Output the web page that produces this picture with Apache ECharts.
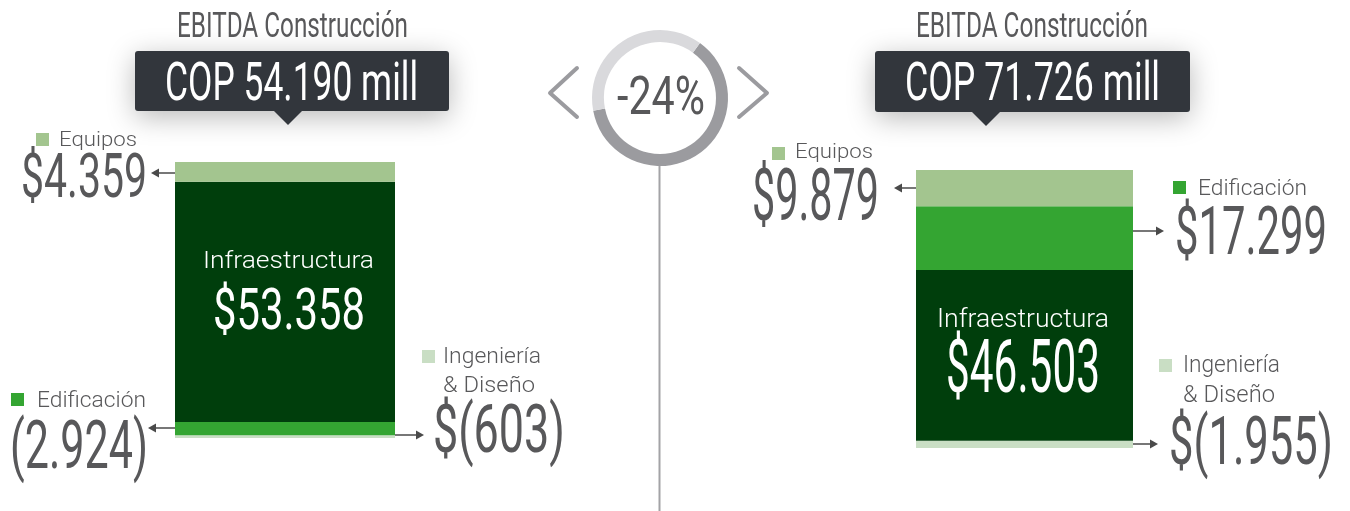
<!DOCTYPE html>
<html>
<head>
<meta charset="utf-8">
<script src="https://cdn.jsdelivr.net/npm/echarts@6/dist/echarts.min.js"></script>
<style>
  html, body { margin: 0; padding: 0; background: #fff; }
  #chart { width: 1350px; height: 511px; }
</style>
</head>
<body>
<div id="chart"></div>
<script>
// segmentos del EBITDA de construcción (COP millones)
const segments = ['Ingeniería & Diseño', 'Edificación', 'Infraestructura', 'Equipos'];
const segColors = ['#c9dec4', '#34a532', '#003e0c', '#a3c58f'];
const current = [-603, -2924, 53358, 4359];   // barra izquierda
const previous = [-1955, 17299, 46503, 9879]; // barra derecha
// orden de apilado (de abajo hacia arriba)
const currentOrder = [0, 1, 2, 3];
const previousOrder = [0, 2, 1, 3];
// signo $ en la etiqueta (la de Edificación izquierda no lo lleva)
const currentDollar = [true, false, true, true];
const previousDollar = [true, true, true, true];
// anillo decorativo alrededor de la variación
const ringShares = [62, 38];

const sum = arr => arr.reduce((a, b) => a + b, 0);
const absSum = arr => arr.reduce((a, b) => a + Math.abs(b), 0);
const fmt = n => Math.round(Math.abs(n)).toString().replace(/\B(?=(\d{3})+(?!\d))/g, '.');
const money = (n, dollar) => (dollar ? '$' : '') + (n < 0 ? '(' + fmt(n) + ')' : fmt(n));

const totalCur = sum(current);
const totalPrev = sum(previous);
const change = Math.round((totalCur - totalPrev) / totalPrev * 100);

const GRAY = '#58585a';
const NUM_FONT = 'Roboto';
const TXT_FONT = 'Roboto';

// texto ajustado a un ancho (fuente condensada simulada con scaleX)
const ctx = document.createElement('canvas').getContext('2d');
function label(str, left, right, capMid, size, color, weight, family) {
  weight = weight || 400;
  family = family || NUM_FONT;
  ctx.font = weight + ' ' + size + 'px ' + family;
  const w = ctx.measureText(str).width;
  return {
    type: 'text', x: left, y: capMid + 0.06 * size, scaleX: (right - left) / w, z: 20, silent: true,
    style: {
      text: str, fill: color, fontSize: size, fontFamily: family, fontWeight: weight,
      align: 'left', verticalAlign: 'middle', textAlign: 'left', textVerticalAlign: 'middle'
    }
  };
}
function square(x, y, color) {
  return { type: 'rect', shape: { x: x, y: y, width: 13, height: 13 }, style: { fill: color }, z: 20, silent: true };
}
function arrow(x1, x2, y) {
  const dir = x2 > x1 ? 1 : -1;
  return [
    { type: 'line', shape: { x1: x1, y1: y, x2: x2 - dir * 6, y2: y }, style: { stroke: '#4a4a4a', lineWidth: 1.5 }, z: 20, silent: true },
    { type: 'polygon', shape: { points: [[x2, y], [x2 - dir * 8, y - 4.5], [x2 - dir * 8, y + 4.5]] }, style: { fill: '#4a4a4a' }, z: 20, silent: true }
  ];
}
function headerBox(x, y, w, h, tipX) {
  return [
    { type: 'rect', shape: { x: x, y: y, width: w, height: h, r: 3 },
      style: { fill: '#32363c', shadowBlur: 28, shadowColor: 'rgba(0,0,0,0.28)', shadowOffsetY: 6 }, z: 10, silent: true },
    { type: 'polygon', shape: { points: [[tipX - 15, y + h - 1], [tipX + 15, y + h - 1], [tipX, y + h + 14]] },
      style: { fill: '#32363c' }, z: 11, silent: true }
  ];
}

const graphics = [].concat(
  // encabezados
  label('EBITDA Construcción', 177, 408, 26, 35, GRAY),
  label('EBITDA Construcción', 916, 1148, 26, 35, GRAY),
  headerBox(135, 51, 314, 60, 288),
  headerBox(875, 51, 315, 61, 986),
  label('COP ' + fmt(totalCur) + ' mill', 165, 418, 83.5, 54, '#ffffff'),
  label('COP ' + fmt(totalPrev) + ' mill', 905, 1160, 83.5, 54, '#ffffff'),
  // centro
  { type: 'polyline', shape: { points: [[577, 68], [550, 93], [577, 117]] },
    style: { stroke: '#9b9b9f', lineWidth: 4, lineCap: 'round', lineJoin: 'round', fill: null }, silent: true },
  { type: 'polyline', shape: { points: [[739, 68], [767, 93], [739, 117]] },
    style: { stroke: '#9b9b9f', lineWidth: 4, lineCap: 'round', lineJoin: 'round', fill: null }, silent: true },
  { type: 'line', shape: { x1: 659.5, y1: 165, x2: 659.5, y2: 511 }, style: { stroke: '#a3a3a6', lineWidth: 2 }, silent: true },
  label(change + '%', 617, 705, 97, 54, GRAY),
  // barra izquierda
  square(36, 133, segColors[3]),
  label(segments[3], 59, 137, 139.5, 21, GRAY, 300, TXT_FONT),
  label(money(current[3], currentDollar[3]), 21, 147, 178, 61, GRAY),
  arrow(175, 151, 173),
  label(segments[2], 203, 374, 261, 24, '#ffffff', 300, TXT_FONT),
  label(money(current[2], currentDollar[2]), 213, 365, 311, 58, '#ffffff'),
  square(11, 393, segColors[1]),
  label(segments[1], 37, 146, 400, 22, GRAY, 300, TXT_FONT),
  label(money(current[1], currentDollar[1]), 10, 148, 448, 66, GRAY),
  arrow(175, 148, 428),
  square(422, 350, segColors[0]),
  label('Ingeniería', 443, 541, 356, 22, GRAY, 300, TXT_FONT),
  label('& Diseño', 443, 535, 385, 22, GRAY, 300, TXT_FONT),
  label(money(current[0], currentDollar[0]), 433, 565, 432, 66, GRAY),
  arrow(395, 424, 435),
  // barra derecha
  square(772, 147, segColors[3]),
  label(segments[3], 795, 873, 151, 21, GRAY, 300, TXT_FONT),
  label(money(previous[3], previousDollar[3]), 752, 879, 198, 72, GRAY),
  arrow(916, 894, 188),
  square(1173, 181, segColors[1]),
  label(segments[1], 1198, 1307, 188, 22, GRAY, 300, TXT_FONT),
  label(money(previous[1], previousDollar[1]), 1175, 1327, 234, 66, GRAY),
  arrow(1133, 1164, 231),
  label(segments[2], 937, 1109, 319, 26, '#ffffff', 300, TXT_FONT),
  label(money(previous[2], previousDollar[2]), 946, 1100, 369, 74, '#ffffff'),
  square(1159, 359, segColors[0]),
  label('Ingeniería', 1183, 1280, 365, 23, GRAY, 300, TXT_FONT),
  label('& Diseño', 1183, 1275, 395, 23, GRAY, 300, TXT_FONT),
  label(money(previous[0], previousDollar[0]), 1169, 1333, 444, 66, GRAY),
  arrow(1133, 1158, 444)
);

function stackSeries(values, order, axis, stackName) {
  return order.map(i => ({
    type: 'bar', name: segments[i], stack: stackName,
    xAxisIndex: axis, yAxisIndex: axis,
    barWidth: '100%', silent: true,
    itemStyle: { color: segColors[i] },
    data: [Math.abs(values[i])]
  }));
}

const chart = echarts.init(document.getElementById('chart'), null, { renderer: 'canvas' });
chart.setOption({
  animation: false,
  backgroundColor: '#ffffff',
  grid: [
    { left: 175, top: 162, width: 220, height: 276 },
    { left: 916, top: 170, width: 217, height: 278 }
  ],
  xAxis: [
    { type: 'category', gridIndex: 0, data: ['actual'], show: false },
    { type: 'category', gridIndex: 1, data: ['anterior'], show: false }
  ],
  yAxis: [
    { type: 'value', gridIndex: 0, min: 0, max: absSum(current), show: false },
    { type: 'value', gridIndex: 1, min: 0, max: absSum(previous), show: false }
  ],
  series: [
    ...stackSeries(current, currentOrder, 0, 'actual'),
    ...stackSeries(previous, previousOrder, 1, 'anterior'),
    {
      type: 'pie', center: [660, 98], radius: [56, 68], startAngle: 54, clockwise: true,
      silent: true, label: { show: false }, labelLine: { show: false },
      emphasis: { disabled: true },
      data: [
        { value: ringShares[0], itemStyle: { color: '#9b9b9f' } },
        { value: ringShares[1], itemStyle: { color: '#d9d9dc' } }
      ]
    }
  ],
  graphic: graphics
});
</script>
</body>
</html>
